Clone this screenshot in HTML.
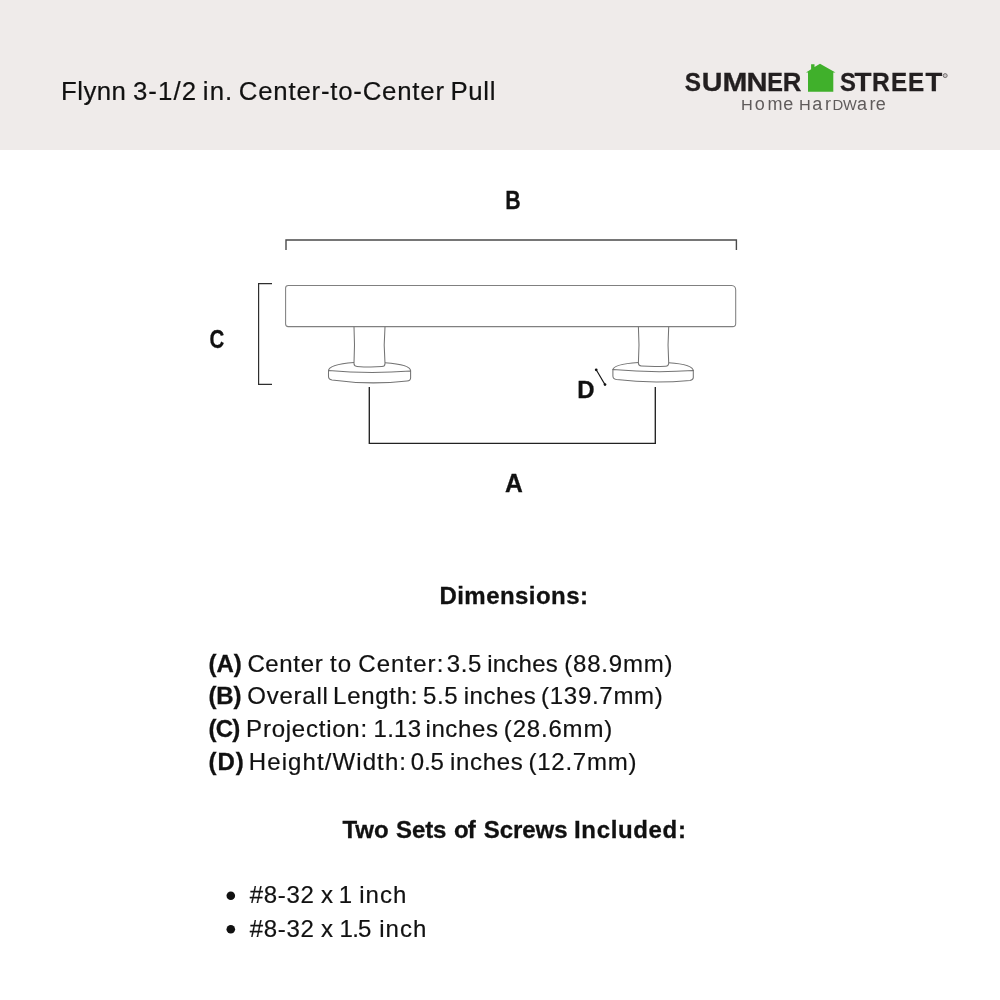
<!DOCTYPE html>
<html><head><meta charset="utf-8">
<style>
html,body{margin:0;padding:0;}
body{width:1000px;height:1000px;background:#fff;position:relative;overflow:hidden;font-family:"Liberation Sans",sans-serif;color:#111;}
.hdr{position:absolute;left:0;top:0;width:1000px;height:150px;background:#efebea;}
.t{-webkit-text-stroke:0.2px #111;position:absolute;white-space:nowrap;line-height:1;}
.b{font-weight:bold;-webkit-text-stroke:0.3px #111;}
.lg{color:#231f20;-webkit-text-stroke:0.3px #231f20;}
.hh{color:#5f5b5b;-webkit-text-stroke:0;}

svg{position:absolute;left:0;top:0;}
</style></head><body>
<div class="hdr"></div>

<svg id="dia" width="1000" height="1000" viewBox="0 0 1000 1000" fill="none">
<!-- house -->
<path d="M806 72.4 L811.1 69.2 V64.3 H814.5 V67.1 L820 63.7 L835.5 72.4 H833.3 V91.8 H808 V72.4 Z" fill="#40b02b"/>
<circle cx="945.2" cy="75.6" r="2" stroke="#6a6566" stroke-width="0.9" fill="#c9c4c4"/>
<!-- B bracket -->
<path d="M286 250 V240 H736.4 V250" stroke="#4a4a4a" stroke-width="1.4"/>
<!-- C bracket -->
<path d="M272 283.6 H258.6 V384.3 H272" stroke="#2e2e2e" stroke-width="1.2"/>
<!-- A bracket -->
<path d="M369.3 387 V443.4 H655.3 V387" stroke="#222" stroke-width="1.35"/>
<!-- bar -->
<path d="M288.4 285.4 H731.6 Q735.7 285.6 735.7 290 V323.4 Q735.7 326.6 732.6 326.6 H288.2 Q285.6 326.6 285.6 324 V288 Q285.6 285.4 288.4 285.4 Z" stroke="#808080" stroke-width="1.05" fill="#fff"/>
<!-- left post + base -->
<g stroke="#747474" stroke-width="1.05">
<path d="M328.5 371 Q328.3 364.6 354 362.6 M385 362.8 Q410.6 364.6 410.6 371"/>
<path d="M328.5 370.5 Q369 374.2 410.6 371 V378 Q410.6 380.6 407 381 Q369 385.2 332 380 Q328.5 379.4 328.5 376.5 Z"/>
<path d="M354 326.8 Q355 345 354 363.5 Q354 366.2 357 366.4 Q369 367.3 382 366.6 Q385 366.5 385 363.5 Q383.4 345 385 326.8"/>
</g>
<!-- right post + base -->
<g stroke="#747474" stroke-width="1.05">
<path d="M612.9 370 Q612.9 364.4 638.4 362.6 M668.7 362.8 Q693.3 364.4 693.3 371"/>
<path d="M612.9 369.6 Q653 373.3 693.3 370.6 V377.6 Q693.3 380 690 380.4 Q652 384 616.5 379.6 Q612.9 379 612.9 376 Z"/>
<path d="M638.4 326.8 Q639.6 345 638.4 363 Q638.4 365.8 641.4 366 Q653 366.8 665.6 366.2 Q668.7 366 668.7 363 Q667.4 345 668.7 326.8"/>
</g>
<!-- D line -->
<path d="M596.2 369.8 L605 384.6" stroke="#111" stroke-width="1.1"/>
<circle cx="596.2" cy="369.8" r="1.35" fill="#111"/><circle cx="605" cy="384.6" r="1.35" fill="#111"/>
<!-- bullets -->
<circle cx="230.8" cy="895.8" r="4.3" fill="#111"/><circle cx="230.8" cy="929.3" r="4.3" fill="#111"/>
</svg>

<div id="wrap" style="position:absolute;left:0;top:0;width:1000px;height:1000px;will-change:transform;">
<!--LAB-->
<div class="t b" style="left:493.29px;top:188.08px;width:40px;text-align:center;font-size:25.9px;transform:scaleX(0.825);">B</div>
<div class="t b" style="left:196.70px;top:325.99px;width:40px;text-align:center;font-size:26.0px;transform:scaleX(0.788);">C</div>
<div class="t b" style="left:493.75px;top:469.82px;width:40px;text-align:center;font-size:26.2px;transform:scaleX(0.943);">A</div>
<div class="t b" style="left:565.69px;top:378.20px;width:40px;text-align:center;font-size:24.1px;transform:scaleX(0.995);">D</div>
<!--/LAB-->
<!--LOGO-->
<div class="t b lg" style="left:673.31px;top:68.75px;width:40px;text-align:center;font-size:26.7px;transform:scaleX(0.913);">S</div>
<div class="t b lg" style="left:692.40px;top:68.75px;width:40px;text-align:center;font-size:26.7px;transform:scaleX(1.075);">U</div>
<div class="t b lg" style="left:714.50px;top:68.75px;width:40px;text-align:center;font-size:26.7px;transform:scaleX(1.120);">M</div>
<div class="t b lg" style="left:736.60px;top:68.75px;width:40px;text-align:center;font-size:26.7px;transform:scaleX(1.092);">N</div>
<div class="t b lg" style="left:755.07px;top:68.75px;width:40px;text-align:center;font-size:26.7px;transform:scaleX(0.880);">E</div>
<div class="t b lg" style="left:772.31px;top:68.75px;width:40px;text-align:center;font-size:26.7px;transform:scaleX(0.966);">R</div>
<div class="t b lg" style="left:827.66px;top:68.75px;width:40px;text-align:center;font-size:26.7px;transform:scaleX(0.894);">S</div>
<div class="t b lg" style="left:842.80px;top:68.75px;width:40px;text-align:center;font-size:26.7px;transform:scaleX(1.041);">T</div>
<div class="t b lg" style="left:860.88px;top:68.75px;width:40px;text-align:center;font-size:26.7px;transform:scaleX(0.924);">R</div>
<div class="t b lg" style="left:878.86px;top:68.75px;width:40px;text-align:center;font-size:26.7px;transform:scaleX(0.907);">E</div>
<div class="t b lg" style="left:896.46px;top:68.75px;width:40px;text-align:center;font-size:26.7px;transform:scaleX(0.907);">E</div>
<div class="t b lg" style="left:913.70px;top:68.75px;width:40px;text-align:center;font-size:26.7px;transform:scaleX(1.029);">T</div>
<!--/LOGO-->
<!--HH-->
<div class="t hh" style="left:732.00px;top:99.02px;width:30px;text-align:center;font-size:13.8px;transform:scaleX(1.18);">H</div>
<div class="t hh" style="left:744.65px;top:94.66px;width:30px;text-align:center;font-size:18px;">o</div>
<div class="t hh" style="left:759.90px;top:94.66px;width:30px;text-align:center;font-size:18px;">m</div>
<div class="t hh" style="left:773.35px;top:94.66px;width:30px;text-align:center;font-size:18px;">e</div>
<div class="t hh" style="left:790.30px;top:99.02px;width:30px;text-align:center;font-size:13.8px;transform:scaleX(1.18);">H</div>
<div class="t hh" style="left:802.15px;top:94.66px;width:30px;text-align:center;font-size:18px;">a</div>
<div class="t hh" style="left:813.10px;top:94.66px;width:30px;text-align:center;font-size:18px;">r</div>
<div class="t hh" style="left:822.50px;top:99.02px;width:30px;text-align:center;font-size:13.8px;transform:scaleX(1.08);">D</div>
<div class="t hh" style="left:834.80px;top:99.02px;width:30px;text-align:center;font-size:13.8px;transform:scaleX(1.06);">W</div>
<div class="t hh" style="left:847.00px;top:94.66px;width:30px;text-align:center;font-size:18px;">a</div>
<div class="t hh" style="left:857.60px;top:94.66px;width:30px;text-align:center;font-size:18px;">r</div>
<div class="t hh" style="left:865.80px;top:94.66px;width:30px;text-align:center;font-size:18px;">e</div>
<!--/HH-->
<!--TXT-->
<div class="t" style="left:60.99px;top:78.96px;font-size:25.8px;letter-spacing:0.464px;">Flynn</div>
<div class="t" style="left:132.90px;top:78.96px;font-size:25.8px;letter-spacing:1.100px;">3-1/2</div>
<div class="t" style="left:202.83px;top:78.96px;font-size:25.8px;letter-spacing:1.100px;">in.</div>
<div class="t" style="left:238.80px;top:78.96px;font-size:25.8px;letter-spacing:0.778px;">Center-to-Center</div>
<div class="t" style="left:450.39px;top:78.96px;font-size:25.8px;letter-spacing:0.716px;">Pull</div>
<div class="t b" style="left:439.44px;top:584.28px;font-size:24px;letter-spacing:0.456px;">Dimensions:</div>
<div class="t b" style="left:208.46px;top:651.78px;font-size:24px;letter-spacing:-0.062px;">(A)</div>
<div class="t" style="left:247.40px;top:651.78px;font-size:24px;letter-spacing:0.642px;">Center</div>
<div class="t" style="left:330.05px;top:651.78px;font-size:24px;letter-spacing:1.100px;">to</div>
<div class="t" style="left:358.31px;top:651.78px;font-size:24px;letter-spacing:1.055px;">Center:</div>
<div class="t" style="left:446.86px;top:651.78px;font-size:24px;letter-spacing:0.534px;">3.5</div>
<div class="t" style="left:487.13px;top:651.78px;font-size:24px;letter-spacing:0.250px;">inches</div>
<div class="t" style="left:564.28px;top:651.78px;font-size:24px;letter-spacing:0.801px;">(88.9mm)</div>
<div class="t b" style="left:208.50px;top:684.38px;font-size:24px;letter-spacing:-0.189px;">(B)</div>
<div class="t" style="left:247.20px;top:684.38px;font-size:24px;letter-spacing:0.791px;">Overall</div>
<div class="t" style="left:333.07px;top:684.38px;font-size:24px;letter-spacing:0.719px;">Length:</div>
<div class="t" style="left:423.04px;top:684.38px;font-size:24px;letter-spacing:0.604px;">5.5</div>
<div class="t" style="left:463.78px;top:684.38px;font-size:24px;letter-spacing:0.525px;">inches</div>
<div class="t" style="left:541.06px;top:684.38px;font-size:24px;letter-spacing:0.719px;">(139.7mm)</div>
<div class="t b" style="left:208.46px;top:716.98px;font-size:24px;letter-spacing:-0.800px;">(C)</div>
<div class="t" style="left:246.12px;top:716.98px;font-size:24px;letter-spacing:0.762px;">Projection:</div>
<div class="t" style="left:373.54px;top:716.98px;font-size:24px;letter-spacing:0.262px;">1.13</div>
<div class="t" style="left:425.48px;top:716.98px;font-size:24px;letter-spacing:0.608px;">inches</div>
<div class="t" style="left:503.87px;top:716.98px;font-size:24px;letter-spacing:0.812px;">(28.6mm)</div>
<div class="t b" style="left:208.46px;top:749.68px;font-size:24px;letter-spacing:0.938px;">(D)</div>
<div class="t" style="left:248.76px;top:749.68px;font-size:24px;letter-spacing:1.100px;">Height/Width:</div>
<div class="t" style="left:410.73px;top:749.68px;font-size:24px;letter-spacing:-0.115px;">0.5</div>
<div class="t" style="left:450.07px;top:749.68px;font-size:24px;letter-spacing:0.643px;">inches</div>
<div class="t" style="left:528.43px;top:749.68px;font-size:24px;letter-spacing:0.768px;">(12.7mm)</div>
<div class="t b" style="left:342.49px;top:817.78px;font-size:24px;letter-spacing:-0.049px;">Two</div>
<div class="t b" style="left:396.03px;top:817.78px;font-size:24px;letter-spacing:-0.107px;">Sets</div>
<div class="t b" style="left:453.94px;top:817.78px;font-size:24px;letter-spacing:-0.800px;">of</div>
<div class="t b" style="left:483.73px;top:817.78px;font-size:24px;letter-spacing:-0.058px;">Screws</div>
<div class="t b" style="left:574.00px;top:817.78px;font-size:24px;letter-spacing:0.655px;">Included:</div>
<div class="t" style="left:249.69px;top:883.48px;font-size:24px;letter-spacing:0.722px;">#8-32</div>
<div class="t" style="left:321.12px;top:883.48px;font-size:24px;letter-spacing:0.000px;">x</div>
<div class="t" style="left:338.75px;top:883.48px;font-size:24px;letter-spacing:0.000px;">1</div>
<div class="t" style="left:359.13px;top:883.48px;font-size:24px;letter-spacing:1.100px;">inch</div>
<div class="t" style="left:249.69px;top:917.08px;font-size:24px;letter-spacing:0.722px;">#8-32</div>
<div class="t" style="left:321.12px;top:917.08px;font-size:24px;letter-spacing:0.000px;">x</div>
<div class="t" style="left:339.58px;top:917.08px;font-size:24px;letter-spacing:-0.800px;">1.5</div>
<div class="t" style="left:379.13px;top:917.08px;font-size:24px;letter-spacing:1.100px;">inch</div>
<!--/TXT-->
</div>
</body></html>
